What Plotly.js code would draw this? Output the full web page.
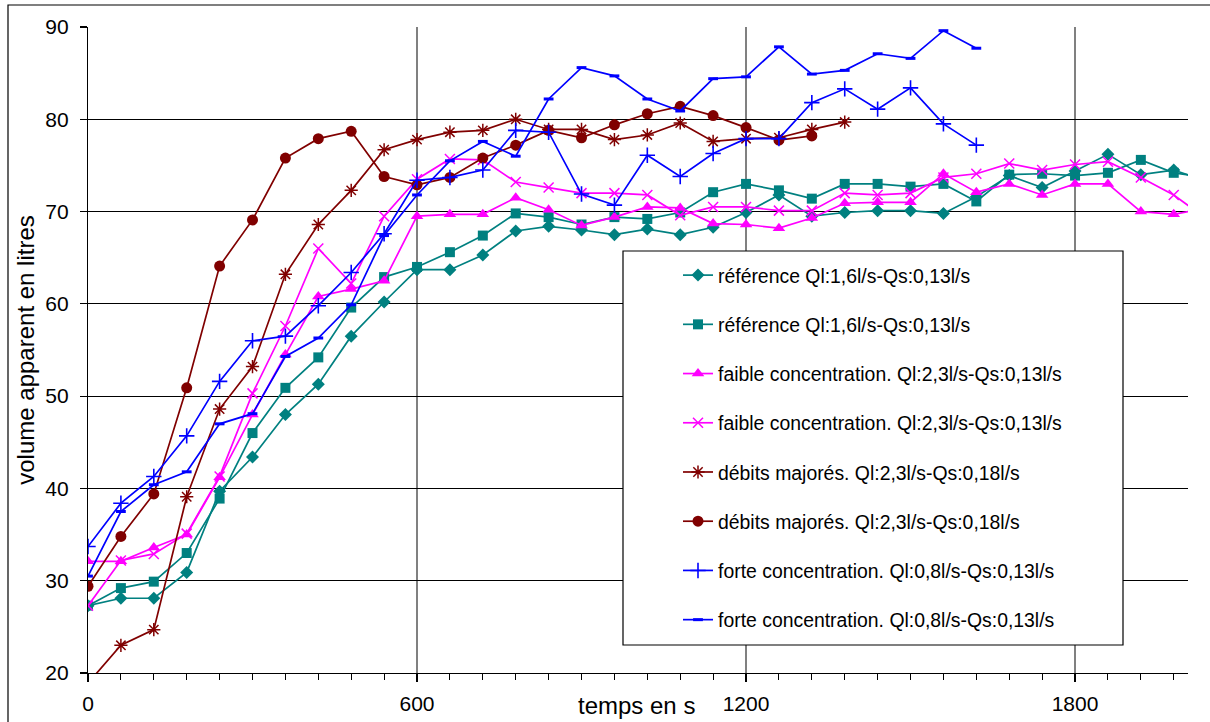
<!DOCTYPE html>
<html>
<head>
<meta charset="utf-8">
<script src="https://cdn.plot.ly/plotly-3.0.1.min.js"></script>
<style>
html,body{margin:0;padding:0;background:#fff;}
#chart{width:1210px;height:722px;}
</style>
</head>
<body>
<div id="chart"></div>
<script>
// time in seconds (one point every 60 s)
const temps = [0,60,120,180,240,300,360,420,480,540,600,660,720,780,840,900,960,1020,1080,1140,1200,1260,1320,1380,1440,1500,1560,1620,1680,1740,1800,1860,1920,1980,2040];

const refDiamond = [27.3,28.1,28.1,30.9,39.7,43.4,48.0,51.3,56.5,60.2,63.7,63.7,65.3,67.9,68.4,68.0,67.5,68.1,67.5,68.3,69.9,71.8,69.5,69.9,70.1,70.1,69.8,71.6,73.9,72.6,74.4,76.2,74.0,74.5,73.3];
const refSquare  = [27.3,29.2,29.9,33.0,38.9,46.0,50.9,54.2,59.6,62.9,64.0,65.6,67.4,69.8,69.4,68.6,69.4,69.2,69.9,72.1,73.0,72.3,71.4,73.0,73.0,72.7,73.0,71.1,74.0,74.1,73.9,74.2,75.6,74.2,73.7];
const faibleTri  = [32.1,32.1,33.6,35.0,41.2,48.0,54.5,60.8,61.6,62.5,69.5,69.7,69.7,71.5,70.2,68.5,69.4,70.5,70.4,68.7,68.6,68.2,69.3,70.9,71.0,71.0,74.1,72.1,73.0,71.8,73.0,73.0,70.0,69.7,70.4];
const faibleX    = [27.3,32.2,32.9,35.1,41.3,50.3,57.6,66.0,62.2,69.5,73.5,75.7,75.6,73.2,72.6,72.0,72.0,71.8,69.6,70.5,70.5,70.1,70.1,72.0,71.8,72.0,73.7,74.1,75.2,74.5,75.1,75.4,73.7,71.8,69.2];
const debitsStar = [18.9,23.0,24.7,39.1,48.6,53.2,63.2,68.6,72.3,76.7,77.8,78.6,78.8,80.0,78.9,78.9,77.8,78.3,79.6,77.6,77.9,78.0,78.9,79.7];
const debitsCirc = [29.4,34.8,39.4,50.9,64.1,69.1,75.8,77.9,78.7,73.8,72.9,73.7,75.8,77.2,78.8,78.0,79.4,80.6,81.4,80.4,79.1,77.75,78.2];
const forteCross = [33.7,38.4,41.3,45.7,51.6,56.0,56.5,59.8,63.4,67.6,73.4,73.7,74.5,78.8,78.6,71.9,70.7,76.1,73.8,76.3,77.9,77.9,81.8,83.3,81.1,83.4,79.5,77.2];
const forteDash  = [30.5,37.5,40.4,41.8,47.0,48.1,54.3,56.3,59.9,67.4,71.8,75.5,77.6,76.0,82.2,85.6,84.7,82.2,80.9,84.4,84.6,87.85,84.9,85.3,87.1,86.6,89.6,87.7];

const names = [
  "référence Ql:1,6l/s-Qs:0,13l/s",
  "référence Ql:1,6l/s-Qs:0,13l/s",
  "faible concentration. Ql:2,3l/s-Qs:0,13l/s",
  "faible concentration. Ql:2,3l/s-Qs:0,13l/s",
  "débits majorés. Ql:2,3l/s-Qs:0,18l/s",
  "débits majorés. Ql:2,3l/s-Qs:0,18l/s",
  "forte concentration. Ql:0,8l/s-Qs:0,13l/s",
  "forte concentration. Ql:0,8l/s-Qs:0,13l/s"
];
const xAxisTicks = [0,600,1200,1800];
const yAxisTicks = [20,30,40,50,60,70,80,90];

const TEAL = "#008080", MAG = "#FF00FF", DRED = "#800000", BLUE = "#0000FF";

function tr(vals, i, color, symbol, size, lw) {
  return {
    x: temps.slice(0, vals.length), y: vals, name: names[i],
    type: "scatter", mode: "lines+markers",
    legendgroup: "g" + i,
    line: {color: color, width: 1.7},
    marker: {color: color, symbol: symbol, size: size, line: {color: color, width: lw}},
    cliponaxis: true
  };
}

const data = [
  tr(refDiamond, 0, TEAL, "diamond", 10, 0),
  tr(refSquare, 1, TEAL, "square", 10, 0),
  tr(faibleTri, 2, MAG, "triangle-up", 11, 0),
  tr(faibleX, 3, MAG, "x-thin-open", 10, 1.5),
  tr(debitsStar, 4, DRED, "asterisk-open", 11, 1.5),
  tr(debitsCirc, 5, DRED, "circle", 11, 0),
  tr(forteCross, 6, BLUE, "cross-thin-open", 11, 1.6),
  tr(forteDash, 7, BLUE, "line-ew-open", 7, 3)
];

const FONT = "Liberation Sans, Arial, sans-serif";
const L = 88, R = 1188, T = 27, B = 673;
const px = v => (v - L) / (R - L);
const py = v => (B - v) / (B - T);

const layout = {
  width: 1210, height: 722,
  margin: {l: L, r: 1210 - R, t: T, b: 722 - B},
  paper_bgcolor: "#fff", plot_bgcolor: "#fff",
  showlegend: true,
  font: {family: FONT, color: "#000"},
  xaxis: {
    range: [0, 2006], tickvals: xAxisTicks, ticktext: xAxisTicks.map(String),
    showgrid: true, gridcolor: "#808080", gridwidth: 1.5,
    showline: true, linecolor: "#000", linewidth: 1.2,
    ticks: "outside", ticklen: 8, tickcolor: "#000", tickwidth: 1.2,
    minor: {dtick: 60, tick0: 0, ticks: "outside", ticklen: 6, tickcolor: "#000", tickwidth: 1, showgrid: false},
    tickfont: {family: FONT, size: 21},
    ticklabelstandoff: 4,
    zeroline: false, fixedrange: true
  },
  yaxis: {
    range: [20, 90], tickvals: yAxisTicks, ticktext: yAxisTicks.map(String),
    showgrid: true, gridcolor: "#000", gridwidth: 1,
    showline: true, linecolor: "#000", linewidth: 1.2,
    ticks: "outside", ticklen: 7, tickcolor: "#000", tickwidth: 1.2,
    tickfont: {family: FONT, size: 21},
    ticklabelstandoff: 7,
    title: {text: "volume apparent en litres", font: {family: FONT, size: 24}, standoff: 3},
    zeroline: false, fixedrange: true
  },
  legend: {
    x: px(678), y: py(256), xanchor: "left", yanchor: "top",
    bgcolor: "rgba(0,0,0,0)", borderwidth: 0,
    font: {family: FONT, size: 19.4, color: "#000"},
    traceorder: "grouped", tracegroupgap: 21,
    itemwidth: 30
  },
  annotations: [{
    text: "temps en s", xref: "paper", yref: "paper",
    x: px(636), y: 0, yshift: -32, xanchor: "center", yanchor: "middle",
    showarrow: false, font: {family: FONT, size: 24, color: "#000"}
  }],
  shapes: [
    {type: "rect", xref: "paper", yref: "paper",
     x0: px(623), x1: px(1123), y0: py(645), y1: py(251),
     fillcolor: "#fff", line: {color: "#000", width: 1.2}, layer: "above"},
    {type: "rect", xref: "paper", yref: "paper",
     x0: px(8), x1: px(1230), y0: py(740), y1: py(5),
     fillcolor: "rgba(0,0,0,0)", line: {color: "#000", width: 1.2}, layer: "above"}
  ]
};

Plotly.newPlot("chart", data, layout, {displayModeBar: false, staticPlot: true});
</script>
</body>
</html>
